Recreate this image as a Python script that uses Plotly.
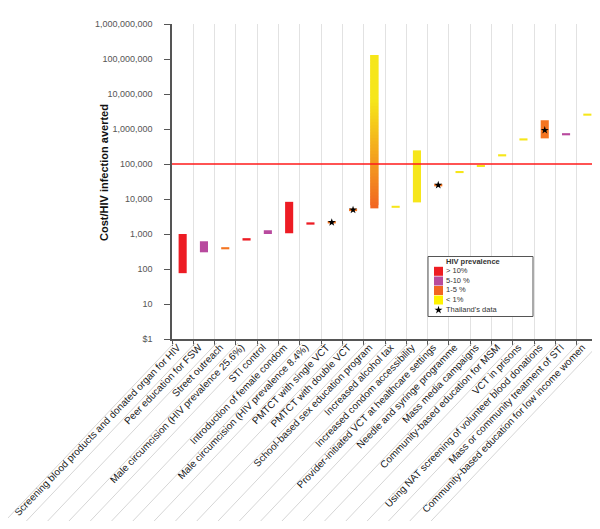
import numpy as np
import plotly.graph_objects as go

# ---------------- data ----------------
categories = [
    "Screening blood products and donated organ for HIV",
    "Peer education for FSW",
    "Street outreach",
    "Male circumcision (HIV prevalence 25.6%)",
    "STI control",
    "Introduction of female condom",
    "Male circumcision (HIV prevalence 8.4%)",
    "PMTCT with single VCT",
    "PMTCT with double VCT",
    "School-based sex education program",
    "Increased alcohol tax",
    "Increased condom accessibility",
    "Provider-initiated VCT at healthcare settings",
    "Needle and syringe programme",
    "Mass media campaigns",
    "Community-based education for MSM",
    "VCT in prisons",
    "Using NAT screening of volunteer blood donations",
    "Mass or community treatment of STI",
    "Community-based education for low income women",
]
cost_low = [76, 300, 365, 650, 1000, 1050, 1850, 2000, 4500, 5400,
            5600, 8000, 23000, 55000, 82000, 165000, 470000, 540000, 660000, 2400000]
cost_high = [1000, 620, 420, 760, 1280, 8300, 2150, 2350, 5300, 130000000,
             6400, 245000, 27000, 63000, 94000, 190000, 540000, 1780000, 760000, 2750000]
prevalence = [">10%", "5-10%", "1-5%", ">10%", "5-10%", ">10%", ">10%", "1-5%", "1-5%", "1-5%|<1%",
              "<1%", "<1%", "1-5%", "<1%", "<1%", "<1%", "<1%", "1-5%", "5-10%", "<1%"]
thailand_value = [None, None, None, None, None, None, None, 2150, 4900, None,
                  None, None, 25000, None, None, None, None, 925000, None, None]
threshold = 100000

y_tickvals = [1, 10, 100, 1000, 10000, 100000, 1000000, 10000000, 100000000, 1000000000]
y_ticktext = ["$1", "10", "100", "1,000", "10,000", "100,000", "1,000,000",
              "10,000,000", "100,000,000", "1,000,000,000"]

legend_keys = [">10%", "5-10%", "1-5%", "<1%"]
legend_labels = ["> 10%", "5-10 %", "1-5 %", "< 1%"]
legend_star_label = "Thailand's data"
legend_title = "HIV prevalence"

# ---------------- styles ----------------
COLORS = {">10%": "#ed1c24", "5-10%": "#b84a9e", "1-5%": "#f47521", "<1%": "#f6e61a"}
LEG_COLORS = {">10%": "#ee1d23", "5-10%": "#b94a9c", "1-5%": "#f26522", "<1%": "#fff200"}
FONT = "Liberation Sans, Arial, sans-serif"
W, H = 600, 529
L, R, T, B = 164, 10, 16, 198
PW, PH = W - L - R, H - T - B
BAR_W = 0.38
LABEL_ANGLE = 46


def fx(px):
    return (px - L) / PW


def fy(py):
    return (H - B - py) / PH


def hex2rgb(h):
    h = h.lstrip("#")
    return np.array([int(h[i:i + 2], 16) for i in (0, 2, 4)], dtype=float)


fig = go.Figure()

# plain bars
idx = [i for i, p in enumerate(prevalence) if "|" not in p]
fig.add_trace(go.Bar(
    x=[categories[i] for i in idx],
    base=[cost_low[i] for i in idx],
    y=[cost_high[i] - cost_low[i] for i in idx],
    width=BAR_W,
    marker=dict(color=[COLORS[prevalence[i]] for i in idx], line=dict(width=0)),
    showlegend=False, hoverinfo="skip",
))

# gradient bar(s)
for i, p in enumerate(prevalence):
    if "|" not in p:
        continue
    c_top = hex2rgb(COLORS[p.split("|")[1]])
    c_bot = hex2rgb("#f26522")
    n = 48
    edges = np.logspace(np.log10(cost_low[i]), np.log10(cost_high[i]), n + 1)
    bases, sizes, cols = [], [], []
    for s in range(n):
        t = (s + 0.5) / n
        f = min(1.0, t / 0.7)
        c = c_bot + (c_top - c_bot) * f
        top = edges[min(s + 2, n)]
        bases.append(edges[s])
        sizes.append(top - edges[s])
        cols.append("rgb(%d,%d,%d)" % tuple(c))
    fig.add_trace(go.Bar(
        x=[categories[i]] * n, base=bases, y=sizes, width=BAR_W,
        marker=dict(color=cols, line=dict(width=0)),
        showlegend=False, hoverinfo="skip",
    ))

# Thailand's data stars
sx = [categories[i] for i, v in enumerate(thailand_value) if v is not None]
sy = [v for v in thailand_value if v is not None]
fig.add_trace(go.Scatter(
    x=sx, y=sy, mode="markers",
    marker=dict(symbol="star", size=6, color="black", line=dict(width=0)),
    showlegend=False, hoverinfo="skip",
))

# threshold line
fig.add_trace(go.Scatter(
    x=[0, 1], y=[threshold, threshold], xaxis="x2", yaxis="y",
    mode="lines", line=dict(color="#ff1a1a", width=1.6),
    showlegend=False, hoverinfo="skip",
))

# ---------------- custom legend ----------------
bx0, bx1, by0, by1 = fx(420), fx(525), fy(308.5), fy(248.5)
fig.add_trace(go.Scatter(
    x=[bx0, bx1, bx1, bx0, bx0], y=[by0, by0, by1, by1, by0],
    xaxis="x2", yaxis="y2", mode="lines", fill="toself",
    fillcolor="white", line=dict(color="#555555", width=1),
    showlegend=False, hoverinfo="skip",
))
item_y = [263.3, 273, 282.5, 292]
fig.add_trace(go.Scatter(
    x=[fx(430.5)] * len(legend_keys), y=[fy(v) for v in item_y],
    xaxis="x2", yaxis="y2", mode="markers",
    marker=dict(symbol="square", size=9, color=[LEG_COLORS[k] for k in legend_keys], line=dict(width=0)),
    showlegend=False, hoverinfo="skip",
))
fig.add_trace(go.Scatter(
    x=[fx(430.5)], y=[fy(302)], xaxis="x2", yaxis="y2", mode="markers",
    marker=dict(symbol="star", size=6, color="black", line=dict(width=0)),
    showlegend=False, hoverinfo="skip",
))
fig.add_trace(go.Scatter(
    x=[fx(438)] * (len(legend_labels) + 1), y=[fy(v) for v in item_y + [302]],
    xaxis="x2", yaxis="y2", mode="text",
    text=legend_labels + [legend_star_label], textposition="middle right",
    textfont=dict(family=FONT, size=7.5, color="#333333"),
    showlegend=False, hoverinfo="skip",
))
fig.add_trace(go.Scatter(
    x=[fx(438)], y=[fy(254.5)], xaxis="x2", yaxis="y2", mode="text",
    text=["<b>" + legend_title + "</b>"], textposition="middle right",
    textfont=dict(family=FONT, size=7.5, color="#333333"),
    showlegend=False, hoverinfo="skip",
))

# diagonal guide lines under the category labels
shapes = []
y_start, y_end = 335, 513
line_shift = 2
dx_line = (y_end - y_start) / np.tan(np.radians(LABEL_ANGLE + 0.5))
for k in range(len(categories) + 1):
    x0 = k / len(categories) + line_shift / PW
    shapes.append(dict(
        type="line", xref="paper", yref="paper",
        x0=x0, y0=fy(y_start), x1=x0 - dx_line / PW, y1=fy(y_end),
        line=dict(color="#d6d6d6", width=1), layer="above",
    ))

fig.update_layout(
    width=W, height=H,
    margin=dict(l=L, r=R, t=T, b=B, autoexpand=False),
    paper_bgcolor="white", plot_bgcolor="white",
    barmode="overlay",
    showlegend=False,
    shapes=shapes,
    font=dict(family=FONT, color="#222222"),
    xaxis=dict(
        type="category", categoryorder="array", categoryarray=categories,
        range=[-0.5, len(categories) - 0.5],
        tickson="boundaries", ticks="outside", ticklen=5, tickcolor="#555555", tickwidth=1,
        showgrid=True, gridcolor="#e2e2e2", gridwidth=1,
        showline=True, linecolor="#555555", linewidth=1.5,
        tickangle=-LABEL_ANGLE, tickfont=dict(family=FONT, size=10, color="#1a1a1a"),
        ticklabelshift=-5, ticklabelstandoff=-3,
        automargin=False, fixedrange=True,
    ),
    xaxis2=dict(overlaying="x", range=[0, 1], visible=False, fixedrange=True),
    yaxis=dict(
        type="log", range=[0, 9],
        tickvals=y_tickvals, ticktext=y_ticktext,
        ticks="outside", ticklen=6, tickcolor="#555555", tickwidth=1,
        ticklabelstandoff=10,
        showgrid=False, zeroline=False,
        showline=True, linecolor="#555555", linewidth=1.5,
        tickfont=dict(family=FONT, size=9, color="#555555"),
        automargin=False, fixedrange=True,
    ),
    yaxis2=dict(overlaying="y", range=[0, 1], visible=False, fixedrange=True),
    annotations=[dict(
        text="<b>Cost/HIV infection averted</b>", textangle=-90,
        xref="paper", yref="paper", x=fx(96), y=fy(165),
        xanchor="center", yanchor="middle", showarrow=False,
        font=dict(family=FONT, size=11, color="#111111"),
    )],
)

fig.write_html("out.html")
